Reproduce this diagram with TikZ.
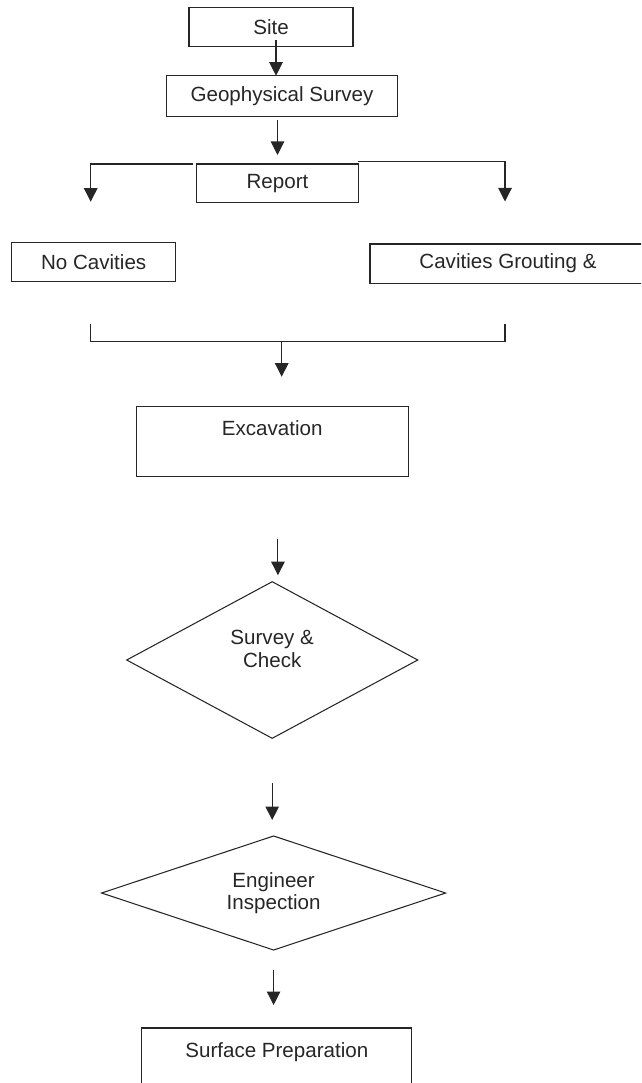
\documentclass[tikz,border=0pt]{standalone}
\usepackage{fontspec}
\setmainfont{Liberation Sans}
\usepackage{tikz}
\usetikzlibrary{arrows.meta,calc,positioning,shapes.geometric}

\begin{document}
\begin{tikzpicture}[auto,>={Triangle[width=0.27cm,length=0.27cm]},line width=0.6pt,color=black!85]
	\tikzstyle{block} = [draw, rectangle, inner sep=0pt, outer sep=0pt, font=\fontsize{11.7}{12.7}\selectfont]
	\tikzstyle{decision} = [draw, diamond, aspect=2.5, inner sep=0pt, outer sep=0pt, align=center, font=\fontsize{11.7}{12.7}\selectfont]
	
	\clip (0,0) rectangle (12.82,-21.66);
	
	\node [block, minimum width=3.28cm, minimum height=0.788cm] (site) at (5.42,-0.54) {Site};
	\node [block, below = 0.58cm of site, xshift=0.22cm, minimum width=4.612cm, minimum height=0.82cm] (geo) {Geophysical Survey};
	\node [block, below = 0.946cm of geo, xshift=-0.09cm, minimum width=3.232cm, minimum height=0.774cm] (report) {Report};
	
	\node [block, below = 0.79cm of report, xshift=-3.676cm, minimum width=3.28cm, minimum height=0.788cm] (nocav) {No Cavities};
	\node [block, below = 0.826cm of report, xshift=4.61cm, minimum width=5.52cm, minimum height=0.786cm] (cav) {Cavities Grouting \&};
	
	\node [block, below = 4.08cm of report, xshift=-0.106cm, minimum width=5.446cm, minimum height=1.4cm, text height=0.58cm, text depth=0.82cm] (excav) {Excavation};
	
	\node [decision, below = 2.1cm of excav, minimum width=5.82cm, minimum height=3.132cm] (surv) {Survey \&\\Check\\\mbox{}};
	\node [decision, below = 1.954cm of surv, xshift=0.028cm, minimum width=6.88cm, minimum height=2.28cm] (insp) {Engineer\\Inspection};
	
	\node [block, below = 1.56cm of insp, xshift=0.064cm, minimum width=5.406cm, minimum height=1.4cm, text height=0.586cm, text depth=0.814cm] (surf) {Surface Preparation};
	
	% bracket under the two results
	\node [coordinate, below = 0.85cm of nocav.south, xshift=-0.07cm] (c1) {};
	\node [coordinate, below = 0.81cm of cav.south, xshift=-0.06cm] (c2) {};
	\node [coordinate, below = 0.354cm of c1] (c3) {};
	\node [coordinate, above = 0.6cm of excav.north, xshift=0.19cm] (c4) {};
	
	\draw [->] ([xshift=0.1cm, yshift=0.13cm]site.south) -- ([xshift=0.1cm]site.south |- geo.north);
	\draw [->] ([yshift=-0.07cm]report.north |- geo.south) -- ([yshift=0.18cm]report.north);
	\draw [->] ([xshift=-0.07cm]report.north west) -| ([xshift=-0.06cm, yshift=0.81cm]nocav.north);
	\draw [->] ([yshift=0.046cm]report.north east) -| ([xshift=-0.06cm, yshift=0.85cm]cav.north);
	\draw [-] (c1) -- (c3) -- (c3 -| c2) -- (c2);
	\draw [->] (c3 -| c4) -- (c4);
	\draw [->] ([xshift=0.115cm, yshift=-1.25cm]excav.south) -- ([xshift=0.115cm, yshift=0.13cm]surv.north);
	\draw [->] ([yshift=-0.89cm]surv.south) -- ([yshift=0.32cm]surv.south |- insp.north);
	\draw [->] ([yshift=-0.4cm]insp.south) -- ([yshift=0.46cm]insp.south |- surf.north);
\end{tikzpicture}
\end{document}
